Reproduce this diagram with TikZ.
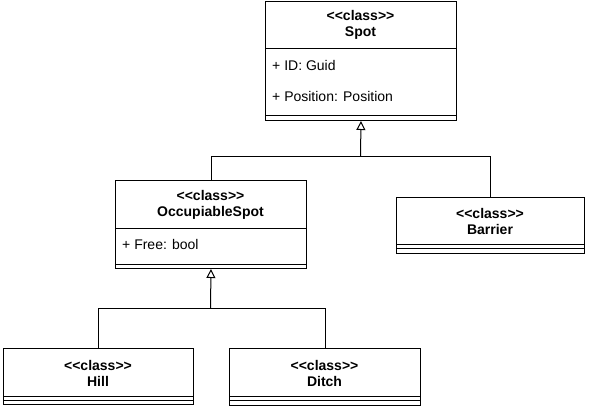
\documentclass[tikz,border=0pt]{standalone}
\usepackage{fontspec}
\setmainfont{Liberation Sans}
\usetikzlibrary{arrows.meta}
\begin{document}
\begin{tikzpicture}[x=1pt,y=-1pt,
  box/.style={draw, line width=1pt, rectangle, inner sep=0pt, anchor=north west},
  div/.style={line width=1pt},
  ttl/.style={font=\fontsize{14}{16}\selectfont\bfseries, align=center, inner sep=0pt},
  attr/.style={font=\fontsize{14}{16}\selectfont, anchor=west, inner sep=0pt},
  conn/.style={line width=1pt},
  inh/.style={line width=1pt, -{Triangle[open, length=9pt, width=9pt, line width=1pt]}}]
\useasboundingbox (0,0) rectangle (589,408);

% Spot
\node[box, minimum width=191pt, minimum height=119pt] (spot) at (265,1) {};
\draw[div] (265,48) -- (456,48);
\draw[div] (265,115.5) -- (456,115.5);
\node[ttl] (spott) at (360.5,25) {<{}<class>{}>\\Spot};
\node[attr] (spota1) at (272,65) {+ ID: Guid};
\node[attr] (spota2) at (272,96) {+ Position: Position};

% OccupiableSpot
\node[box, minimum width=191pt, minimum height=88pt] (os) at (115,180) {};
\draw[div] (115,228) -- (306,228);
\draw[div] (115,264) -- (306,264);
\node[ttl] (ost) at (210.5,205) {<{}<class>{}>\\OccupiableSpot};
\node[attr] (osa1) at (122,244) {+ Free: bool};

% Barrier
\node[box, minimum width=188pt, minimum height=56pt] (barrier) at (396,197) {};
\draw[div] (396,244.5) -- (584,244.5);
\draw[div] (396,248.5) -- (584,248.5);
\node[ttl] (barriert) at (490,221) {<{}<class>{}>\\Barrier};

% Hill
\node[box, minimum width=190pt, minimum height=56pt] (hill) at (3,348) {};
\draw[div] (3,396) -- (193,396);
\draw[div] (3,400) -- (193,400);
\node[ttl] (hillt) at (98,373) {<{}<class>{}>\\Hill};

% Ditch
\node[box, minimum width=191pt, minimum height=57pt] (ditch) at (229,348) {};
\draw[div] (229,396) -- (420,396);
\draw[div] (229,400.5) -- (420,400.5);
\node[ttl] (ditcht) at (324.5,373) {<{}<class>{}>\\Ditch};

% connectors
\coordinate (j1) at (360.5,156);
\draw[conn] (os.north) |- (j1);
\draw[conn] (barrier.north) |- (j1);
\draw[inh] (j1) -- (spot.south);

\coordinate (j2) at (210.5,308);
\draw[conn] (hill.north) |- (j2);
\draw[conn] (ditch.north) |- (j2);
\draw[inh] (j2) -- (os.south);
\end{tikzpicture}
\end{document}
